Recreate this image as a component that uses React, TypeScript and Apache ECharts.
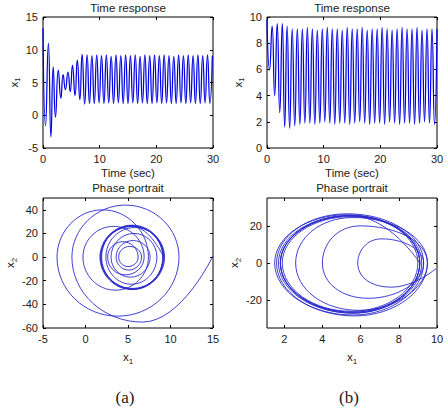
import React, { useEffect, useRef } from "react";
import * as echarts from "echarts";

// ---- (a) time response: turning points of x1 over time ----
const timeA = [
  0, 0.45, 0.95, 1.4, 1.8, 2.2, 2.7, 3.15, 3.55, 3.95, 4.4, 4.8, 5.2, 5.65, 6.05, 6.5, 6.9, 7.35,
  7.78, 8.2, 8.63, 9.05, 9.48, 9.9, 10.33, 10.75, 11.18, 11.6, 12.03, 12.45, 12.88, 13.3, 13.73,
  14.15, 14.58, 15.0, 15.43, 15.85, 16.28, 16.7, 17.13, 17.55, 17.98, 18.4, 18.83, 19.25, 19.68,
  20.1, 20.53, 20.95, 21.38, 21.8, 22.23, 22.65, 23.08, 23.5, 23.93, 24.35, 24.78, 25.2, 25.63,
  26.05, 26.48, 26.9, 27.33, 27.75, 28.18, 28.6, 29.03, 29.45, 29.88,
];
const x1A = [
  13.3, -1.6, 11.0, -3.3, 7.4, -0.3, 6.9, 2.6, 6.2, 3.9, 6.6, 3.6, 7.6, 3.0, 8.4, 2.4, 9.3, 1.7,
  9.2, 1.8, 9.1, 1.8, 9.2, 1.9, 9.1, 1.8, 9.2, 1.9, 9.0, 1.8, 9.2, 1.9, 9.1,
  1.8, 9.2, 1.8, 9.1, 1.9, 9.2, 1.8, 9.0, 1.9, 9.2, 1.8, 9.1, 1.8, 9.2,
  1.9, 9.1, 1.8, 9.2, 1.9, 9.1, 1.8, 9.0, 1.8, 9.2, 1.9, 9.1, 1.8, 9.2,
  1.9, 9.1, 1.8, 9.2, 1.8, 9.1, 1.9, 9.2, 1.8, 9.1,
];

// ---- (b) time response ----
const timeB = [
  0, 0.45, 0.9, 1.35, 1.8, 2.25, 2.7, 3.12, 3.55, 4.0, 4.45, 4.9, 5.35, 5.8,
  6.24, 6.68, 7.12, 7.56, 8.0, 8.44, 8.88, 9.32, 9.76, 10.2, 10.64, 11.08, 11.52, 11.96, 12.4,
  12.84, 13.28, 13.72, 14.16, 14.6, 15.04, 15.48, 15.92, 16.36, 16.8, 17.24, 17.68, 18.12, 18.56,
  19.0, 19.44, 19.88, 20.32, 20.76, 21.2, 21.64, 22.08, 22.52, 22.96, 23.4, 23.84, 24.28, 24.72,
  25.16, 25.6, 26.04, 26.48, 26.92, 27.36, 27.8, 28.24, 28.68, 29.12, 29.56, 30.0,
];
const x1B = [
  9.8, 5.95, 9.3, 4.0, 9.5, 2.7, 9.5, 1.6, 9.3, 1.5, 9.1, 1.7, 9.1, 1.8,
  9.1, 1.9, 9.2, 1.9, 9.1, 1.8, 9.0, 1.9, 9.1, 2.0, 9.2, 1.9, 9.1, 1.8, 9.1,
  1.9, 9.0, 1.9, 9.2, 1.8, 9.1, 1.9, 9.1, 2.0, 9.2, 1.9, 9.0, 1.8, 9.1,
  1.9, 9.1, 1.9, 9.2, 1.8, 9.1, 2.0, 9.0, 1.9, 9.1, 1.8, 9.2, 1.9, 9.1,
  1.9, 9.1, 1.8, 9.2, 1.9, 9.0, 2.0, 9.1, 1.9, 9.1, 1.8, 9.1,
];

// ---- (a) phase portrait: x1 / x2 turning points, clockwise ----
const phaseA_x1 = [
  15.0, 6.7, -1.6, 4.7, 11.0, 3.8, -3.35, 2.0, 7.4, 3.5, -0.3, 3.3, 6.9, 4.7, 2.6, 4.4,
  6.2, 5.0, 3.9, 5.2, 6.6, 5.1, 3.6, 5.6, 7.6, 5.3, 3.0, 5.7, 8.4, 5.4, 2.4, 5.8,
  9.3, 5.5, 1.7, 5.5, 9.2, 5.5, 1.8, 5.4, 9.1, 5.6, 1.8, 5.5, 9.2, 5.5, 1.9, 5.4,
  9.1, 5.6, 1.8, 5.5, 9.2,
];
const phaseA_x2 = [
  1, -55, 0, 44, 0, -50, 0, 40, 0, -28, 0, 26, 0, -15, 0, 13,
  0, -8, 0, 9, 0, -11, 0, 14, 0, -17, 0, 20, 0, -23, 0, 25,
  0, -27.5, 0, 27, 0, -27, 0, 26.5, 0, -27, 0, 26, 0, -26.5, 0, 26.5,
  0, -27, 0, 26, 0,
];

// ---- (b) phase portrait ----
const phaseB_x1 = [
  9.95, 7.6, 5.85, 7.1, 9.3, 6.4, 4.0, 6.0, 9.5, 5.9, 2.6, 5.6, 9.5, 5.7, 1.6, 5.3,
  9.3, 5.6, 1.5, 5.3, 9.1, 5.6, 1.7, 5.4, 9.1, 5.6, 1.8, 5.5, 9.0, 5.5, 1.9, 5.5,
  9.1, 5.6, 1.8, 5.4, 9.2, 5.6, 1.8, 5.5, 9.1,
];
const phaseB_x2 = [
  -3, -13, 0, 13, 0, -19, 0, 20, 0, -25.5, 0, 24.5, 0, -28.5, 0, 26.5,
  0, -28, 0, 26, 0, -27, 0, 25.5, 0, -26.5, 0, 25.5, 0, -26, 0, 25,
  0, -26.5, 0, 25.5, 0, -27, 0, 25.5, 0,
];

const SANS = '"Liberation Sans", Arial, Helvetica, sans-serif';
const SERIF = '"Liberation Serif", "Times New Roman", serif';
const INK = "#1a1a1a";
const LINE_T = "#0000e6";
const LINE_P = "#2a2acc";

const zip = (a: number[], b: number[]) => a.map((v, i) => [v, b[i]]);

const grids = [
  { left: 43, top: 17, width: 170, height: 131 },
  { left: 267, top: 17, width: 170, height: 131 },
  { left: 43, top: 198, width: 170, height: 130 },
  { left: 267, top: 198, width: 170, height: 130 },
];

const subRich = {
  s: { fontSize: 8, lineHeight: 8, verticalAlign: "bottom", fontFamily: SANS, color: INK },
};

function buildOption() {
  const tick = { show: true, inside: true, length: 3, lineStyle: { color: "#000", width: 1 } };
  const label = { color: INK, fontSize: 11, fontFamily: SANS, margin: 5 };
  const nameStyle = { color: INK, fontSize: 11.5, fontFamily: SANS, lineHeight: 16, rich: subRich };
  const noLine = { show: false, onZero: false };

  type Ax = Record<string, any>;
  const xCfg: Ax[] = [
    { min: 0, max: 30, interval: 10, name: "Time (sec)", nameGap: 17 },
    { min: 0, max: 30, interval: 10, name: "Time (sec)", nameGap: 17 },
    { min: -5, max: 15, interval: 5, name: "x{s|1}", nameGap: 21 },
    { min: 1.1, max: 10, name: "x{s|1}", nameGap: 21, custom: [2, 4, 6, 8, 10] },
  ];
  const yCfg: Ax[] = [
    { min: -5, max: 15, interval: 5, nameGap: 20 },
    { min: 0, max: 10, interval: 2, nameGap: 20 },
    { min: -60, max: 50, interval: 20, nameGap: 25, hideMax: true, sub: "2" },
    { min: -35, max: 35, nameGap: 22, custom: [-20, 0, 20], sub: "2" },
  ];

  const xAxis: any[] = [];
  const yAxis: any[] = [];
  grids.forEach((_, i) => {
    const xc = xCfg[i];
    const yc = yCfg[i];
    const xBase: any = {
      type: "value",
      gridIndex: i,
      min: xc.min,
      max: xc.max,
      axisLine: noLine,
      splitLine: { show: false },
    };
    if (xc.interval !== undefined) xBase.interval = xc.interval;
    const yBase: any = {
      type: "value",
      gridIndex: i,
      min: yc.min,
      max: yc.max,
      axisLine: noLine,
      splitLine: { show: false },
    };
    if (yc.interval !== undefined) yBase.interval = yc.interval;

    const xTick: any = { ...tick };
    const xLabel: any = { ...label };
    if (xc.custom) {
      xTick.customValues = xc.custom;
      xLabel.customValues = xc.custom;
    }
    const yTick: any = { ...tick };
    const yLabel: any = { ...label };
    if (yc.custom) {
      yTick.customValues = yc.custom;
      yLabel.customValues = yc.custom;
    }
    if (yc.hideMax) yLabel.showMaxLabel = false;

    xAxis.push({
      ...xBase,
      position: "bottom",
      axisTick: xTick,
      axisLabel: xLabel,
      name: xc.name,
      nameLocation: "middle",
      nameGap: xc.nameGap,
      nameTextStyle: nameStyle,
    });
    xAxis.push({
      ...xBase,
      position: "top",
      axisTick: xTick,
      axisLabel: { show: false, customValues: xc.custom },
    });
    yAxis.push({
      ...yBase,
      position: "left",
      axisTick: yTick,
      axisLabel: yLabel,
      name: `x{s|${yc.sub || "1"}}`,
      nameLocation: "middle",
      nameRotate: 90,
      nameGap: yc.nameGap,
      nameTextStyle: nameStyle,
    });
    yAxis.push({
      ...yBase,
      position: "right",
      axisTick: yTick,
      axisLabel: { show: false, customValues: yc.custom },
    });
  });

  const lineSeries = (i: number, data: number[][], color: string, width: number) => ({
    type: "line",
    xAxisIndex: i * 2,
    yAxisIndex: i * 2,
    data,
    showSymbol: false,
    symbol: "none",
    smooth: 0.55,
    clip: true,
    silent: true,
    lineStyle: { color, width },
  });

  const text = (x: number, y: number, s: string, size: number, family = SANS) => ({
    type: "text",
    x,
    y,
    silent: true,
    style: {
      text: s,
      fill: INK,
      font: `${size}px ${family}`,
      align: "center",
      verticalAlign: "middle",
    },
  });

  return {
    animation: false,
    backgroundColor: "#ffffff",
    grid: grids.map((g) => ({
      ...g,
      show: true,
      borderColor: "#000",
      borderWidth: 1,
      backgroundColor: "#ffffff",
      containLabel: false,
    })),
    xAxis,
    yAxis,
    graphic: [
      text(128, 8, "Time response", 11.5),
      text(352, 8, "Time response", 11.5),
      text(128, 188, "Phase portrait", 11.5),
      text(352, 188, "Phase portrait", 11.5),
      text(125, 397, "(a)", 17, SERIF),
      text(349, 397, "(b)", 17, SERIF),
    ],
    series: [
      lineSeries(0, zip(timeA, x1A), LINE_T, 1.25),
      lineSeries(1, zip(timeB, x1B), LINE_T, 1.25),
      lineSeries(2, zip(phaseA_x1, phaseA_x2), LINE_P, 0.9),
      lineSeries(3, zip(phaseB_x1, phaseB_x2), LINE_P, 0.9),
    ],
  };
}

export default function App() {
  const ref = useRef<HTMLDivElement>(null);
  useEffect(() => {
    if (!ref.current) return;
    const chart = echarts.init(ref.current, undefined, { renderer: "svg" });
    chart.setOption(buildOption() as any);
    return () => chart.dispose();
  }, []);
  return (
    <div
      ref={ref}
      style={{ position: "absolute", left: 0, top: 0, width: 448, height: 411, background: "#fff" }}
    />
  );
}
